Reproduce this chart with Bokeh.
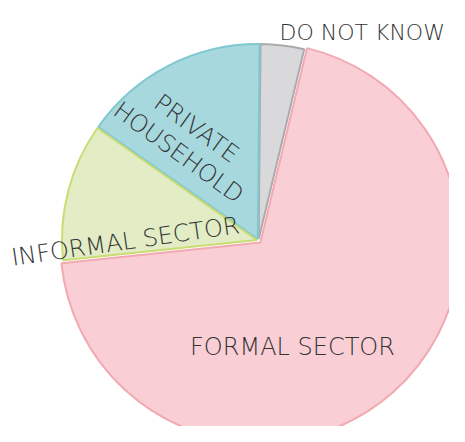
import math
from bokeh.plotting import figure
from bokeh.models import Range1d, ColumnDataSource
from bokeh.core.properties import value
from bokeh.embed import file_html
from bokeh.resources import INLINE

# ---- data ----
categories = ["DO NOT KNOW", "PRIVATE HOUSEHOLD", "INFORMAL SECTOR", "FORMAL SECTOR"]
shares = [3.6, 15.4, 11.4, 69.6]  # percent

# ---- styles ----
fill_colors = ["#d9d9db", "#a7d8de", "#e2edc6", "#f9cfd5"]
line_colors = ["#ababad", "#7fc8d0", "#c9dc73", "#f2a9b1"]
radii = [195, 195, 195, 200]
explode = [1.6, 1.6, 1.6, 2.8]
start_deg = 76.5
cx, cy = 258, -240

W, H = 449, 426
p = figure(width=W, height=H, x_range=Range1d(0, W), y_range=Range1d(-H, 0),
           output_backend="svg", toolbar_location=None, min_border=0,
           background_fill_color="white", border_fill_color="white")
p.outline_line_color = None
p.axis.visible = False
p.grid.visible = False

total = sum(shares)
starts, ends, xs, ys = [], [], [], []
a = math.radians(start_deg)
for s, e in zip(shares, explode):
    sweep = 2 * math.pi * s / total
    mid = a + sweep / 2
    starts.append(a)
    ends.append(a + sweep)
    xs.append(cx + e * math.cos(mid))
    ys.append(cy + e * math.sin(mid))
    a += sweep

src = ColumnDataSource(dict(x=xs, y=ys, r=radii, start=starts, end=ends,
                            fill=fill_colors, line=line_colors, cat=categories))
p.wedge(x="x", y="y", radius="r", start_angle="start", end_angle="end",
        fill_color="fill", line_color="line", line_width=2, source=src)

font = value("DejaVu Sans Light")
tc = "#333333"
fs = "24px"
p.text(x=[279], y=[-32], text=["DO NOT KNOW"], text_font=font, text_font_size="22px",
       text_color=tc, text_align="left", text_baseline="alphabetic")
p.text(x=[292], y=[-346], text=["FORMAL SECTOR"], text_font=font, text_font_size=fs,
       text_color=tc, text_align="center", text_baseline="middle")
p.text(x=[125], y=[-241], text=["INFORMAL SECTOR"], text_font=font, text_font_size=fs,
       text_color=tc, text_align="center", text_baseline="middle", angle=math.radians(8.2))
p.text(x=[196], y=[-128], text=["PRIVATE"], text_font=font, text_font_size=fs,
       text_color=tc, text_align="center", text_baseline="middle", angle=math.radians(-36))
p.text(x=[178], y=[-152], text=["HOUSEHOLD"], text_font=font, text_font_size=fs,
       text_color=tc, text_align="center", text_baseline="middle", angle=math.radians(-36))

open("out.html", "w").write(file_html(p, INLINE))
